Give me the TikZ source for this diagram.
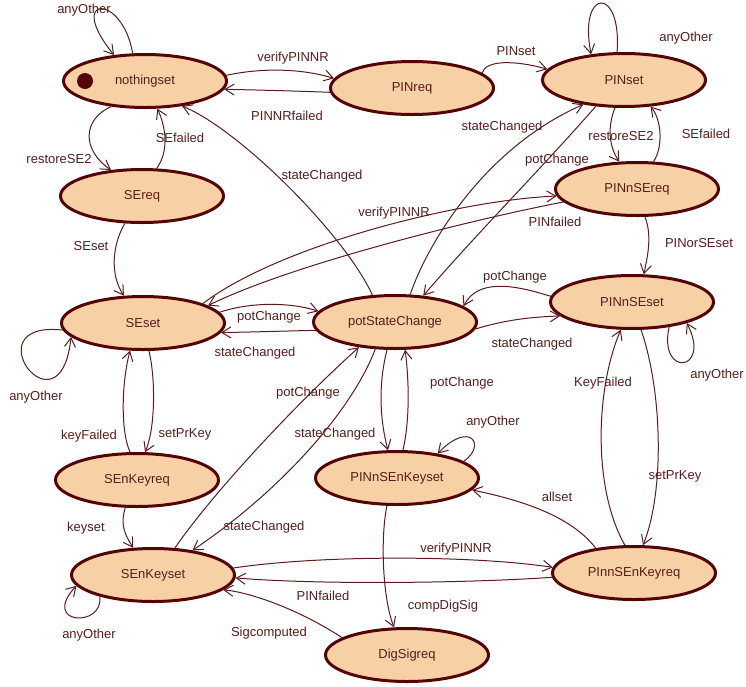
\documentclass[tikz,border=0pt]{standalone}
\usepackage{fontspec}
\setmainfont{Liberation Sans}
\usetikzlibrary{shapes.geometric,arrows.meta}
\definecolor{stateFill}{HTML}{F8D0A6}
\definecolor{stateLine}{HTML}{540404}
\definecolor{ink}{HTML}{5A1C1C}
\begin{document}
\begin{tikzpicture}[x=1pt,y=-1pt,
  state/.style={ellipse, draw=stateLine, fill=stateFill, line width=3pt,
    minimum width=163pt, minimum height=53pt, inner sep=0pt, text=ink,
    font=\fontsize{13}{15}\selectfont},
  lbl/.style={text=ink, font=\fontsize{13}{15}\selectfont, inner sep=0pt,
    text height=9.3pt, text depth=2.7pt},
  tr/.style={draw=ink, line width=1pt, -{Straight Barb[length=9pt,width=11pt]}}
]
\useasboundingbox (0,0) rectangle (746,686);

% states
\node[state] (NS) at (145,81)  {nothingset};
\node[state] (PR) at (412,88)  {PINreq};
\node[state] (PS) at (624,80)  {PINset};
\node[state] (SR) at (142,196) {SEreq};
\node[state] (PQ) at (637,189) {PINnSEreq};
\node[state] (SS) at (143,323) {SEset};
\node[state] (PC) at (395,322) {potStateChange};
\node[state] (PE) at (632,302) {PINnSEset};
\node[state] (KR) at (137,480) {SEnKeyreq};
\node[state] (KS) at (397,478) {PINnSEnKeyset};
\node[state] (SK) at (153,575) {SEnKeyset};
\node[state] (PK) at (634,573) {PInnSEnKeyreq};
\node[state] (DG) at (407,655) {DigSigreq};

% initial marker
\fill[stateLine] (85,81) circle[radius=8pt];

% transitions
\draw[tr] (NS.114) .. controls (122,-8) and (65,-5) .. (NS.140);
\draw[tr] (NS.4) .. controls (260,68) and (300,68) .. (PR.173);
\draw[tr] (PR.183) .. controls (295,91) and (260,90) .. (NS.354);
\draw[tr] (NS.217) .. controls (82,120) and (82,150) .. (SR.140);
\draw[tr] (SR.62) .. controls (170,150) and (165,125) .. (NS.294);
\draw[tr] (PC.130) .. controls (345,235) and (240,130) .. (NS.326);
\draw[tr] (PR.12) .. controls (485,60) and (515,60) .. (PS.172);
\draw[tr] (PS.104) .. controls (622,-15) and (578,-12) .. (PS.142);
\draw[tr] (PC.61) .. controls (425,250) and (480,150) .. (PS.211);
\draw[tr] (PS.223) .. controls (540,170) and (480,230) .. (PC.43);
\draw[tr] (PS.252) .. controls (608,125) and (608,145) .. (PQ.123);
\draw[tr] (PQ.59) .. controls (663,148) and (662,120) .. (PS.315);
\draw[tr] (SS.18) .. controls (280,245) and (460,200) .. (PQ.185);
\draw[tr] (PQ.190) .. controls (470,220) and (290,265) .. (SS.15);
\draw[tr] (SR.238) .. controls (112,245) and (110,275) .. (SS.125);
\draw[tr] (SS.8) .. controls (250,302) and (290,302) .. (PC.172);
\draw[tr] (PC.186) .. controls (285,331) and (255,332) .. (SS.353);
\draw[tr] (SS.185) .. controls (-30,320) and (60,440) .. (SS.191);
\draw[tr] (KR.104) .. controls (120,430) and (122,380) .. (SS.245);
\draw[tr] (SS.282) .. controls (156,380) and (155,430) .. (KR.74);
\draw[tr] (KR.247) .. controls (120,525) and (125,535) .. (SK.126);
\draw[tr] (SK.202) .. controls (104,628) and (40,625) .. (SK.188);
\draw[tr] (SK.51) .. controls (215,490) and (300,400) .. (PC.215);
\draw[tr] (PC.234) .. controls (350,415) and (275,495) .. (SK.32);
\draw[tr] (PC.254) .. controls (378,385) and (380,420) .. (KS.108);
\draw[tr] (KS.78) .. controls (410,420) and (409,380) .. (PC.290);
\draw[tr] (KS.14) .. controls (487,445) and (470,420) .. (KS.31);
\draw[tr] (PE.176) .. controls (515,285) and (478,278) .. (PC.13);
\draw[tr] (PC.355) .. controls (505,320) and (530,317) .. (PE.191);
\draw[tr] (PQ.286) .. controls (652,235) and (648,255) .. (PE.67);
\draw[tr] (PE.326) .. controls (658,378) and (712,372) .. (PE.339);
\draw[tr] (PK.108) .. controls (593,490) and (595,390) .. (PE.248);
\draw[tr] (PE.288) .. controls (662,390) and (665,490) .. (PK.72);
\draw[tr] (PK.147) .. controls (570,515) and (520,500) .. (KS.351);
\draw[tr] (SK.5) .. controls (320,555) and (470,555) .. (PK.176);
\draw[tr] (PK.183) .. controls (470,583) and (320,585) .. (SK.358);
\draw[tr] (KS.250) .. controls (380,540) and (383,600) .. (DG.115);
\draw[tr] (DG.165) .. controls (300,610) and (250,592) .. (SK.348);

% transition labels
\node[lbl] (l1)  at (84,10)   {anyOther};
\node[lbl] (l2)  at (293,58)  {verifyPINNR};
\node[lbl] (l3)  at (287,117) {PINNRfailed};
\node[lbl] (l4)  at (59,160)  {restoreSE2};
\node[lbl] (l5)  at (180,139) {SEfailed};
\node[lbl] (l6)  at (322,176) {stateChanged};
\node[lbl] (l7)  at (516,52)  {PINset};
\node[lbl] (l8)  at (686,38)  {anyOther};
\node[lbl] (l9)  at (502,127) {stateChanged};
\node[lbl] (l10) at (557,160) {potChange};
\node[lbl] (l11) at (621,137) {restoreSE2};
\node[lbl] (l12) at (706,135) {SEfailed};
\node[lbl] (l13) at (394,213) {verifyPINNR};
\node[lbl] (l14) at (555,223) {PINfailed};
\node[lbl] (l15) at (91,247)  {SEset};
\node[lbl] (l16) at (269,317) {potChange};
\node[lbl] (l17) at (255,353) {stateChanged};
\node[lbl] (l18) at (36,397)  {anyOther};
\node[lbl] (l19) at (89,436)  {keyFailed};
\node[lbl] (l20) at (185,434) {setPrKey};
\node[lbl] (l21) at (86,528)  {keyset};
\node[lbl] (l22) at (89,635)  {anyOther};
\node[lbl] (l23) at (308,393) {potChange};
\node[lbl] (l24) at (264,527) {stateChanged};
\node[lbl] (l25) at (335,434) {stateChanged};
\node[lbl] (l26) at (462,383) {potChange};
\node[lbl] (l27) at (493,422) {anyOther};
\node[lbl] (l28) at (515,277) {potChange};
\node[lbl] (l29) at (532,344) {stateChanged};
\node[lbl] (l30) at (699,244) {PINorSEset};
\node[lbl] (l31) at (717,375) {anyOther};
\node[lbl] (l32) at (603,383) {KeyFailed};
\node[lbl] (l33) at (675,476) {setPrKey};
\node[lbl] (l34) at (557,498) {allset};
\node[lbl] (l35) at (456,549) {verifyPINNR};
\node[lbl] (l36) at (323,597) {PINfailed};
\node[lbl] (l37) at (443,606) {compDigSig};
\node[lbl] (l38) at (269,633) {Sigcomputed};
\end{tikzpicture}
\end{document}
